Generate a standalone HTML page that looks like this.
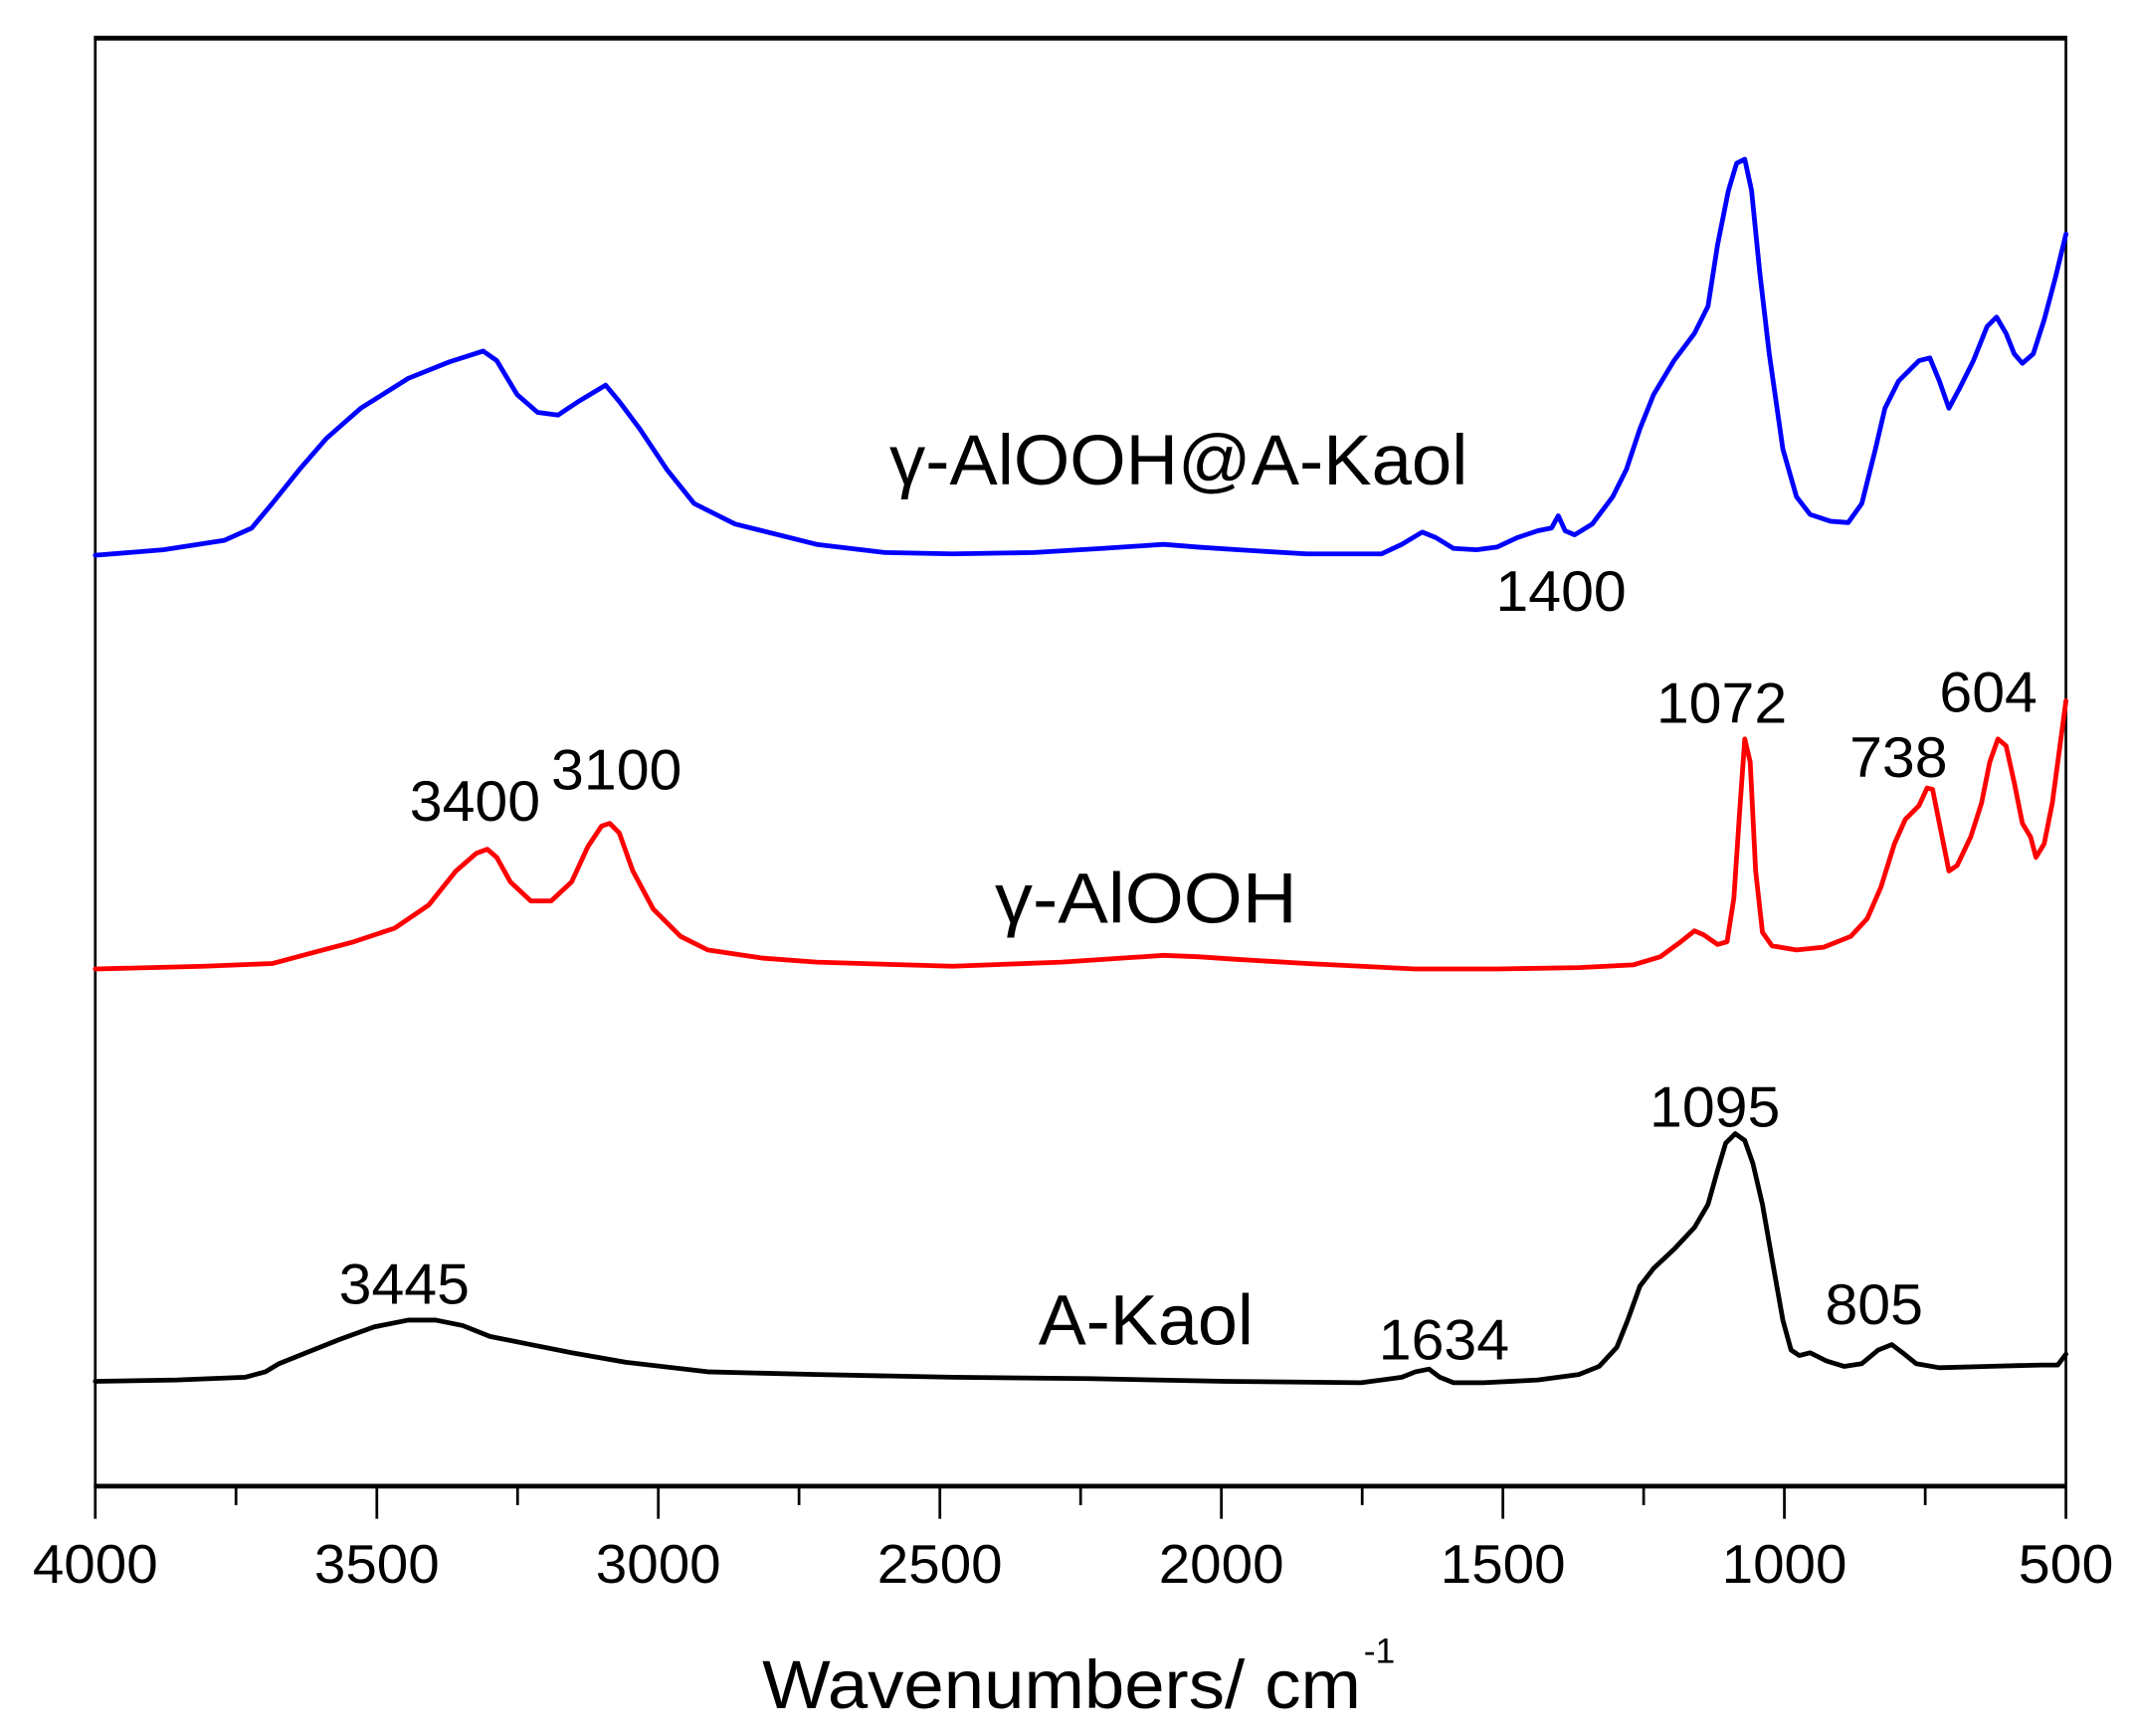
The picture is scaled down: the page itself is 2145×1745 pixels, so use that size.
<!DOCTYPE html>
<html><head><meta charset="utf-8"><style>html,body{margin:0;padding:0;background:#fff}svg{display:block}</style></head>
<body>
<svg width="2145" height="1745" viewBox="0 0 1568 1275.6" xmlns="http://www.w3.org/2000/svg" font-family="Liberation Sans, sans-serif">
<rect width="1568" height="1276" fill="#fff"/>
<line x1="69" y1="28" x2="1519" y2="28" stroke="#000" stroke-width="3.5"/>
<line x1="70" y1="27" x2="70" y2="1093" stroke="#000" stroke-width="2"/>
<line x1="1518" y1="27" x2="1518" y2="1093" stroke="#000" stroke-width="2"/>
<line x1="69" y1="1092" x2="1519" y2="1092" stroke="#000" stroke-width="3.5"/>
<g stroke="#000" stroke-width="2">
<line x1="70" y1="1092" x2="70" y2="1116"/><line x1="173.4" y1="1092" x2="173.4" y2="1106"/>
<line x1="276.9" y1="1092" x2="276.9" y2="1116"/><line x1="380.3" y1="1092" x2="380.3" y2="1106"/>
<line x1="483.7" y1="1092" x2="483.7" y2="1116"/><line x1="587.1" y1="1092" x2="587.1" y2="1106"/>
<line x1="690.6" y1="1092" x2="690.6" y2="1116"/><line x1="794" y1="1092" x2="794" y2="1106"/>
<line x1="897.4" y1="1092" x2="897.4" y2="1116"/><line x1="1000.9" y1="1092" x2="1000.9" y2="1106"/>
<line x1="1104.3" y1="1092" x2="1104.3" y2="1116"/><line x1="1207.7" y1="1092" x2="1207.7" y2="1106"/>
<line x1="1311.1" y1="1092" x2="1311.1" y2="1116"/><line x1="1414.6" y1="1092" x2="1414.6" y2="1106"/>
<line x1="1518" y1="1092" x2="1518" y2="1116"/>
</g>
<g font-size="40" text-anchor="middle" fill="#000">
<text x="70" y="1163" textLength="92" lengthAdjust="spacingAndGlyphs">4000</text>
<text x="276.9" y="1163" textLength="92" lengthAdjust="spacingAndGlyphs">3500</text>
<text x="483.7" y="1163" textLength="92" lengthAdjust="spacingAndGlyphs">3000</text>
<text x="690.6" y="1163" textLength="92" lengthAdjust="spacingAndGlyphs">2500</text>
<text x="897.4" y="1163" textLength="92" lengthAdjust="spacingAndGlyphs">2000</text>
<text x="1104.3" y="1163" textLength="92" lengthAdjust="spacingAndGlyphs">1500</text>
<text x="1311.1" y="1163" textLength="92" lengthAdjust="spacingAndGlyphs">1000</text>
<text x="1518" y="1163" textLength="70" lengthAdjust="spacingAndGlyphs">500</text>
</g>
<text x="560" y="1255" font-size="50" textLength="440" lengthAdjust="spacingAndGlyphs">Wavenumbers/ cm</text>
<text x="1002" y="1222" font-size="26">-1</text>
<g fill="none" stroke-width="3.5" stroke-linejoin="round" stroke-linecap="round">
<polyline stroke="#0000ff" points="70,408 120,404 165,397 185,388 200,370 220,345 240,322 265,300 300,278 330,266 355,258 365,265 380,290 395,303 410,305 425,295 445,283 455,295 470,315 490,345 510,370 540,385 600,400 650,406 700,407 760,406 810,403 855,400 880,402 910,404 960,407 1015,407 1030,400 1045,391 1055,395 1068,403 1085,404 1100,402 1115,395 1130,390 1140,388 1145,379 1150,390 1157,393 1170,385 1185,365 1195,345 1205,315 1215,290 1230,265 1245,245 1255,225 1262,180 1270,140 1276,120 1282,117 1287,140 1293,200 1300,260 1310,330 1320,365 1330,378 1345,383 1358,384 1368,370 1378,330 1385,300 1395,280 1410,265 1418,263 1425,280 1432,300 1440,285 1450,265 1460,240 1467,233 1474,245 1480,260 1486,267 1494,260 1502,235 1510,205 1518,172"/>
<polyline stroke="#ff0000" points="70,712 150,710 200,708 230,700 260,692 290,682 315,665 335,640 350,627 358,624 365,630 375,648 390,662 405,662 420,648 432,622 442,607 448,605 455,612 465,640 480,668 500,688 520,698 560,704 600,707 700,710 780,707 855,702 880,703 910,705 960,708 1000,710 1040,712 1100,712 1160,711 1200,709 1220,703 1235,692 1245,684 1252,687 1262,694 1269,692 1274,660 1278,600 1282,543 1286,560 1290,640 1295,685 1302,695 1320,698 1340,696 1360,688 1372,675 1382,652 1392,620 1400,602 1410,592 1416,579 1420,580 1425,605 1432,640 1438,636 1448,615 1456,590 1462,560 1468,543 1474,548 1480,575 1486,605 1492,615 1496,630 1502,620 1508,590 1514,545 1518,515"/>
<polyline stroke="#000" points="70,1015 130,1014 180,1012 195,1008 205,1002 225,994 250,984 275,975 300,970 320,970 340,974 360,982 390,988 420,994 460,1001 520,1008 600,1010 700,1012 800,1013 900,1015 1000,1016 1030,1012 1040,1008 1050,1006 1058,1012 1068,1016 1090,1016 1130,1014 1160,1010 1175,1004 1188,990 1196,970 1205,945 1215,932 1230,918 1245,902 1255,885 1262,860 1268,840 1275,833 1282,838 1288,855 1295,885 1302,925 1310,970 1316,992 1322,996 1330,994 1342,1000 1355,1004 1368,1002 1380,992 1390,988 1398,994 1408,1002 1425,1005 1460,1004 1500,1003 1512,1003 1518,995"/>
</g>
<g fill="#000">
<text x="866" y="356" font-size="52" text-anchor="middle" textLength="425" lengthAdjust="spacingAndGlyphs">γ-AlOOH@A-Kaol</text>
<text x="842" y="678" font-size="52" text-anchor="middle" textLength="222" lengthAdjust="spacingAndGlyphs">γ-AlOOH</text>
<text x="842" y="988" font-size="52" text-anchor="middle" textLength="158" lengthAdjust="spacingAndGlyphs">A-Kaol</text>
<g font-size="42" text-anchor="middle">
<text x="1147" y="449" textLength="96" lengthAdjust="spacingAndGlyphs">1400</text>
<text x="1265" y="531" textLength="96" lengthAdjust="spacingAndGlyphs">1072</text>
<text x="1461" y="523" textLength="72" lengthAdjust="spacingAndGlyphs">604</text>
<text x="1395" y="571" textLength="72" lengthAdjust="spacingAndGlyphs">738</text>
<text x="349" y="603" textLength="96" lengthAdjust="spacingAndGlyphs">3400</text>
<text x="453" y="580" textLength="96" lengthAdjust="spacingAndGlyphs">3100</text>
<text x="1260" y="828" textLength="96" lengthAdjust="spacingAndGlyphs">1095</text>
<text x="297" y="958" textLength="96" lengthAdjust="spacingAndGlyphs">3445</text>
<text x="1377" y="973" textLength="72" lengthAdjust="spacingAndGlyphs">805</text>
<text x="1061" y="999" textLength="96" lengthAdjust="spacingAndGlyphs">1634</text>
</g>
</g>
</svg>
</body></html>
